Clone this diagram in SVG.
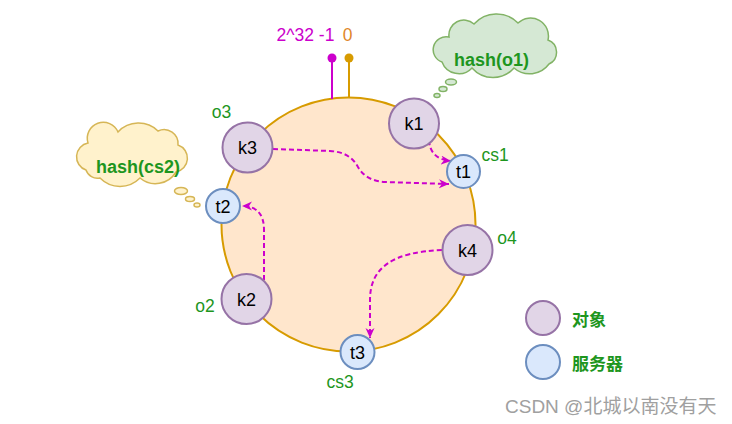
<svg xmlns="http://www.w3.org/2000/svg" width="732" height="424" viewBox="0 0 732 424">
<defs>
<style>
.obj{fill:#e1d5e7;stroke:#9673a6;stroke-width:2}
.srv{fill:#dae8fc;stroke:#6c8ebf;stroke-width:2}
.nl{font-family:"Liberation Sans",Arial,sans-serif;font-size:18px;fill:#000;text-anchor:middle}
.gl{font-family:"Liberation Sans",Arial,sans-serif;font-size:17.5px;fill:#1e961e;text-anchor:middle}
.bl{font-family:"Liberation Sans",Arial,sans-serif;font-size:18px;font-weight:bold;fill:#1e961e;text-anchor:middle}
.cjk{font-family:"Liberation Sans","Noto Sans CJK SC",sans-serif;font-size:17px;font-weight:bold;fill:#1e961e}
.edge{fill:none;stroke:#cc00cc;stroke-width:2;stroke-dasharray:5 3;marker-end:url(#arr)}
.gc{fill:#d5e8d4;stroke:#82b366;stroke-width:1.5}
.yc{fill:#fff2cc;stroke:#d6b656;stroke-width:1.5}
</style>
<marker id="arr" markerUnits="userSpaceOnUse" markerWidth="12" markerHeight="10" refX="10" refY="4.5" orient="auto">
<path d="M0,0 L10,4.5 L0,9 L3,4.5 Z" fill="#cc00cc"/>
</marker>
</defs>
<rect width="732" height="424" fill="#ffffff"/>

<g id="ring">
<circle cx="348.5" cy="224.5" r="127" fill="#ffe6cc" stroke="#d79b00" stroke-width="2"/>
</g>

<g id="pins">
<line x1="332" y1="58" x2="332" y2="99" stroke="#cc00cc" stroke-width="2"/>
<circle cx="332" cy="58" r="4.5" fill="#cc00cc"/>
<line x1="349" y1="58" x2="349" y2="98" stroke="#d79b00" stroke-width="2"/>
<circle cx="349" cy="58" r="4.5" fill="#d79b00"/>
<text x="305.5" y="41" font-family="Liberation Sans,Arial,sans-serif" font-size="17.5" fill="#cc00cc" text-anchor="middle">2^32 -1</text>
<text x="347.5" y="41" font-family="Liberation Sans,Arial,sans-serif" font-size="17.5" fill="#e0862a" text-anchor="middle">0</text>
</g>

<g id="cloud-o1">
<path class="gc" d="M 442 62 A 13 13 0 0 1 449 37 A 15 15 0 0 1 474 24 A 30 30 0 0 1 518 23 A 18 18 0 0 1 548 40 A 13 13 0 0 1 549 64 A 24 24 0 0 1 514 68 A 28 28 0 0 1 472 68 A 18 18 0 0 1 442 62 Z"/>
<ellipse class="gc" cx="451" cy="82" rx="5.5" ry="3"/>
<ellipse class="gc" cx="443" cy="89" rx="4" ry="2.5"/>
<ellipse class="gc" cx="437" cy="95.5" rx="3" ry="2"/>
<text class="bl" x="491.5" y="66">hash(o1)</text>
</g>

<g id="cloud-cs2">
<path class="yc" d="M 86 170 A 14 14 0 0 1 88 143 A 16 16 0 0 1 118 132 A 28 28 0 0 1 158 131 A 14 14 0 0 1 178 145 A 14 14 0 0 1 176 172 A 24 24 0 0 1 140 178 A 28 28 0 0 1 100 178 A 12 12 0 0 1 86 170 Z"/>
<ellipse class="yc" cx="181" cy="191" rx="6.5" ry="3.5"/>
<ellipse class="yc" cx="190" cy="199" rx="4.5" ry="2.5"/>
<ellipse class="yc" cx="197" cy="205" rx="3" ry="2"/>
<text class="bl" x="138" y="173">hash(cs2)</text>
</g>

<g id="connectors">
<path class="edge" d="M 429 140 Q 430 159 451 161"/>
<path class="edge" d="M 273 149 L 330 151 Q 350 152 358 167 Q 366 181 385 182 L 449 184"/>
<path class="edge" d="M 264 280 L 264 230 Q 264 206 242 206"/>
<path class="edge" d="M 442 250 C 392 252, 370 268, 370 300 L 370 338"/>
</g>

<g id="k1"><circle class="obj" cx="414" cy="123.5" r="25"/><text class="nl" x="414" y="130">k1</text></g>
<g id="k3"><circle class="obj" cx="247.5" cy="147.5" r="25"/><text class="nl" x="247.5" y="154">k3</text><text class="gl" x="221.5" y="118">o3</text></g>
<g id="k2"><circle class="obj" cx="246.5" cy="299" r="25"/><text class="nl" x="246.5" y="305.5">k2</text><text class="gl" x="205" y="312">o2</text></g>
<g id="k4"><circle class="obj" cx="467.5" cy="250" r="25"/><text class="nl" x="467.5" y="256.5">k4</text><text class="gl" x="507" y="244">o4</text></g>
<g id="t1"><circle class="srv" cx="463.5" cy="171.5" r="16.5"/><text class="nl" x="463.5" y="178">t1</text><text class="gl" x="495" y="161">cs1</text></g>
<g id="t2"><circle class="srv" cx="223" cy="206" r="17"/><text class="nl" x="223" y="212.5">t2</text></g>
<g id="t3"><circle class="srv" cx="357.5" cy="352" r="17"/><text class="nl" x="357.5" y="358.5">t3</text><text class="gl" x="340" y="388">cs3</text></g>

<g id="legend">
<circle class="obj" cx="543" cy="318" r="17"/>
<text class="cjk" x="572" y="326">对象</text>
<circle class="srv" cx="543" cy="362" r="17"/>
<text class="cjk" x="572" y="370">服务器</text>
</g>

<g id="watermark">
<text x="505" y="413" font-family="Liberation Sans,'Noto Sans CJK SC',sans-serif" font-size="19" fill="#a0a0a0">CSDN @北城以南没有天</text>
</g>
</svg>
